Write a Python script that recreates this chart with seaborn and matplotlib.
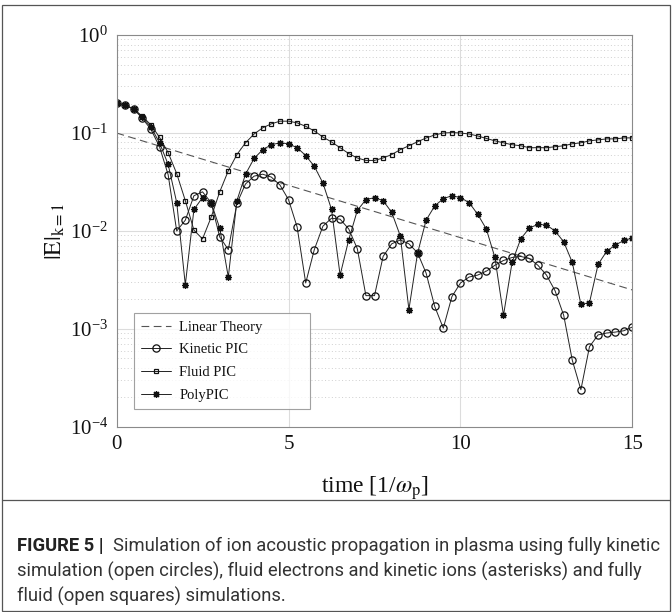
import numpy as np
import pandas as pd
import matplotlib
matplotlib.use("Agg")
import matplotlib.pyplot as plt
from matplotlib.ticker import LogLocator, LogFormatterMathtext, NullFormatter, FixedLocator
from matplotlib.patches import Rectangle
from matplotlib.lines import Line2D
import seaborn as sns

# time samples, 1/omega_p
time = np.linspace(0.0, 15.0, 61)

kinetic_pic = [
    0.201, 0.192, 0.176, 0.141, 0.109, 0.0724, 0.0376, 0.0100, 0.0129, 0.0229,
    0.0251, 0.0195, 0.0087, 0.00646, 0.0191, 0.0302, 0.0363, 0.0380, 0.0355, 0.0295,
    0.0209, 0.0110, 0.00295, 0.00646, 0.0112, 0.0135, 0.0132, 0.0105, 0.0066, 0.00219,
    0.00219, 0.0055, 0.0074, 0.0081, 0.0074, 0.0060, 0.00372, 0.0017, 0.00102, 0.00214,
    0.00295, 0.00339, 0.00355, 0.00389, 0.00447, 0.0050, 0.00537, 0.0055, 0.00525, 0.00447,
    0.00355, 0.00245, 0.00138, 0.00048, 0.00024, 0.00066, 0.00087, 0.00091, 0.00093, 0.00096,
    0.00105,
]

fluid_pic = [
    0.201, 0.192, 0.176, 0.148, 0.121, 0.0904, 0.0631, 0.0385, 0.0204, 0.0102,
    0.0083, 0.0138, 0.0251, 0.0412, 0.0603, 0.0794, 0.0977, 0.113, 0.124, 0.132,
    0.132, 0.127, 0.117, 0.105, 0.091, 0.081, 0.0708, 0.0617, 0.0556, 0.0525,
    0.0525, 0.0556, 0.0603, 0.0676, 0.0741, 0.0813, 0.089, 0.0955, 0.100, 0.101,
    0.100, 0.0977, 0.0933, 0.088, 0.0832, 0.0794, 0.0759, 0.0741, 0.0708, 0.0708,
    0.0708, 0.0724, 0.0741, 0.0776, 0.0794, 0.0832, 0.0851, 0.0871, 0.0871, 0.0891,
    0.0891,
]

poly_pic = [
    0.201, 0.192, 0.176, 0.145, 0.115, 0.0794, 0.0479, 0.0195, 0.00282, 0.0166,
    0.0219, 0.0195, 0.0107, 0.00339, 0.0204, 0.0380, 0.0550, 0.0676, 0.0759, 0.0794,
    0.0776, 0.0708, 0.0589, 0.0457, 0.0309, 0.0166, 0.00355, 0.0081, 0.0162, 0.0209,
    0.0219, 0.0204, 0.0155, 0.0089, 0.00158, 0.0059, 0.0129, 0.0180, 0.0214, 0.0229,
    0.0219, 0.0195, 0.0148, 0.0105, 0.00537, 0.00138, 0.00479, 0.0083, 0.0107, 0.0117,
    0.0115, 0.0100, 0.00776, 0.00479, 0.00178, 0.00186, 0.00457, 0.0062, 0.0072, 0.0080,
    0.0085,
]

# linear Landau-damping estimate (straight line on the log axis)
linear_t = [0.0, 15.0]
linear_e = [0.1, 0.0025]

series_names = ["Kinetic PIC", "Fluid PIC", "PolyPIC"]
series_markers = {"Kinetic PIC": "o", "Fluid PIC": "s", "PolyPIC": (8, 2, 0)}
series_msize = {"Kinetic PIC": 5.2, "Fluid PIC": 2.8, "PolyPIC": 5.0}

sns.set_theme(style="white")
plt.rcParams["font.family"] = ["Liberation Serif", "DejaVu Serif"]
plt.rcParams["mathtext.fontset"] = "stix"

fig = plt.figure(figsize=(6.72, 6.12), dpi=100)
ax = fig.add_axes([0.1734, 0.3023, 0.7678, 0.6405])

lin_df = pd.DataFrame({"t": linear_t, "E": linear_e})
sns.lineplot(data=lin_df, x="t", y="E", ax=ax, color="#555555", lw=0.8,
             dashes=False, linestyle=(0, (7, 4)), label="Linear Theory")

frames = {
    "Kinetic PIC": kinetic_pic,
    "Fluid PIC": fluid_pic,
    "PolyPIC": poly_pic,
}
for name in series_names:
    df = pd.DataFrame({"t": time, "E": frames[name]})
    sns.lineplot(data=df, x="t", y="E", ax=ax, color="#222222", lw=0.7,
                 marker=series_markers[name], markersize=series_msize[name],
                 markerfacecolor="none" if name != "PolyPIC" else "#111111",
                 markeredgecolor="#111111", markeredgewidth=0.9,
                 label=name)

ax.set_yscale("log")
ax.set_xlim(0, 15)
ax.set_ylim(1e-4, 1)

ax.xaxis.set_major_locator(FixedLocator([0, 5, 10, 15]))
ax.yaxis.set_major_locator(LogLocator(base=10, numticks=10))
ax.yaxis.set_major_formatter(LogFormatterMathtext())
ax.yaxis.set_minor_locator(LogLocator(base=10, subs=np.arange(2, 10), numticks=20))
ax.yaxis.set_minor_formatter(NullFormatter())

# grid: solid at decades and at t=5,10; dotted at minor decades
for yv in [1e-3, 1e-2, 1e-1]:
    ax.axhline(yv, color="#dcdcdc", lw=0.8, zorder=0)
for xv in [5, 10]:
    ax.axvline(xv, color="#dcdcdc", lw=0.8, zorder=0)
ax.yaxis.grid(True, which="minor", color="#cfcfcf", lw=0.7, linestyle=(0, (1, 2.5)), zorder=0)

for sp in ax.spines.values():
    sp.set_color("#8a8a8a")
    sp.set_linewidth(0.8)

ax.tick_params(axis="both", which="major", direction="in", length=5, width=0.6,
               color="#8a8a8a", labelsize=15, labelcolor="#111111", pad=6)
ax.tick_params(axis="y", which="minor", direction="in", length=3, width=0.5, color="#8a8a8a")
ax.tick_params(top=False, right=False)

ax.set_xlabel(r"time [1/$\omega_{\mathrm{p}}$]", fontsize=17, color="#111111", labelpad=14)
ax.set_ylabel(r"$|\mathrm{E}|_{\mathrm{k=1}}$", fontsize=17, color="#111111", labelpad=2)

leg = ax.legend(loc="lower left", bbox_to_anchor=(0.034, 0.046, 0.341, 0.258),
                mode="expand", frameon=True, fancybox=False, fontsize=10.5,
                handlelength=2.0, borderaxespad=0.0, labelspacing=0.65,
                handletextpad=0.6, borderpad=0.5)
leg.get_frame().set_edgecolor("#8a8a8a")
leg.get_frame().set_linewidth(0.8)
for txt in leg.get_texts():
    txt.set_color("#111111")

# outer frame around chart and caption, with a rule between them
fig.patches.append(Rectangle((0.0025, 0.002), 0.995, 0.99, transform=fig.transFigure,
                             fill=False, edgecolor="#555555", lw=0.9))
fig.lines.append(Line2D([0.0025, 0.9975], [1 - 500 / 612, 1 - 500 / 612],
                        transform=fig.transFigure, color="#555555", lw=0.9))

cap_font = ["Liberation Sans Narrow", "Roboto"]
cap_size = 13.2
fig.text(0.026, 1 - 546 / 612, "FIGURE 5 |", fontsize=cap_size, fontweight="bold",
         family=cap_font, color="#222222", va="center")
fig.text(0.168, 1 - 546 / 612,
         "Simulation of ion acoustic propagation in plasma using fully kinetic",
         fontsize=cap_size, family=cap_font, color="#333333", va="center")
fig.text(0.026, 1 - 571 / 612,
         "simulation (open circles), fluid electrons and kinetic ions (asterisks) and fully",
         fontsize=cap_size, family=cap_font, color="#333333", va="center")
fig.text(0.026, 1 - 596 / 612, "fluid (open squares) simulations.",
         fontsize=cap_size, family=cap_font, color="#333333", va="center")

fig.savefig("out.png", dpi=100, facecolor="white")
